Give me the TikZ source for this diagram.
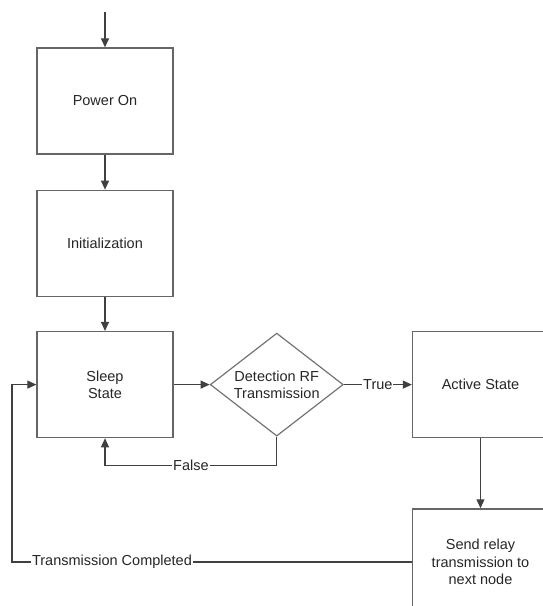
\documentclass[tikz,border=0pt]{standalone}
\usepackage{fontspec}
\setmainfont{Liberation Sans}
\usetikzlibrary{arrows.meta,positioning,shapes.geometric}

\begin{document}
\begin{tikzpicture}[
  font=\fontsize{14.5}{17.5}\selectfont,
  text=black!85,
  box/.style={draw=black!60, line width=1.3pt, align=center, minimum width=136pt, minimum height=106pt, inner sep=0pt},
  decision/.style={draw=black!55, line width=1.2pt, diamond, aspect=1.3, align=center, minimum width=133pt, minimum height=103pt, inner sep=0pt},
  arrow/.style={-{Triangle[length=9pt,width=8pt]}, line width=1.2pt, draw=black!75},
  lbl/.style={fill=white, inner sep=1pt}
]
  \useasboundingbox (0pt,0pt) rectangle (543pt,-606pt);

  % Main column
  \node[box] (power) at (105pt,-101pt) {Power On};
  \coordinate[above=35pt of power] (start);
  \node[box, below=35pt of power] (init) {Initialization};
  \node[box, below=34pt of init] (sleep) {Sleep\\State};

  % Decision and active branch
  \node[decision, right=36pt of sleep] (detect) {Detection RF\\Transmission};
  \node[box, right=68pt of detect] (active) {Active State};
  \node[box, below=70pt of active] (send) {Send relay\\transmission to\\next node};

  % Return line
  \coordinate (ret) at (12pt,0pt);

  % Arrows
  \draw[arrow] (start) -- (power);
  \draw[arrow] (power) -- (init);
  \draw[arrow] (init) -- (sleep);
  \draw[arrow] (sleep) -- (detect);
  \draw[arrow] (detect) -- node[lbl] {True} (active);
  \draw[arrow] (detect.south) -- ++(0pt,-29pt) -| node[lbl, pos=0.25] {False} (sleep.south);
  \draw[arrow] (active) -- (send);
  \draw[arrow] (send.west) -- node[lbl, pos=0.75] {Transmission Completed} (send.west -| ret) |- (sleep.west);
\end{tikzpicture}
\end{document}
